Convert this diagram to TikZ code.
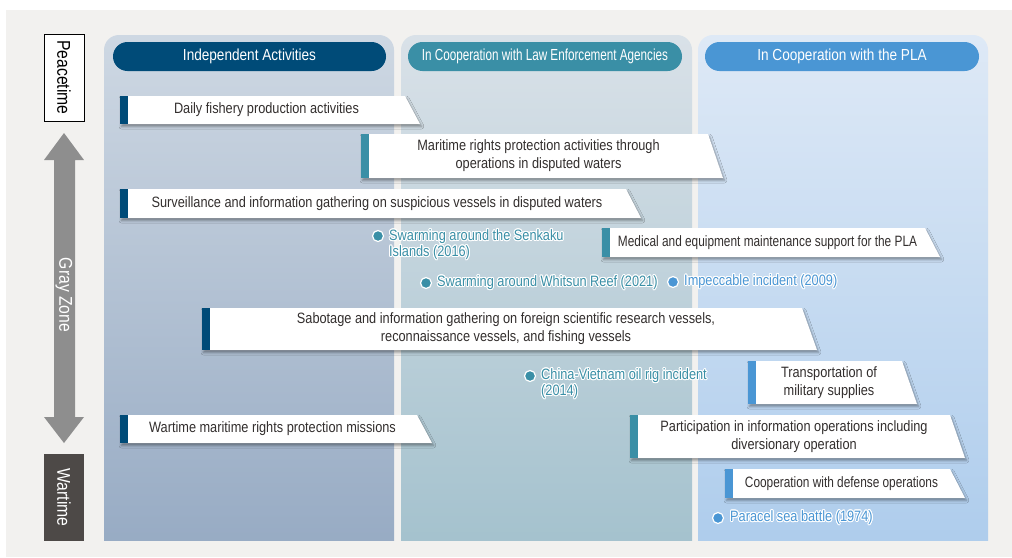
\documentclass[tikz,border=0pt]{standalone}
\usepackage{fontspec}
\setmainfont[FakeStretch=0.85]{Liberation Sans}
\newfontfamily\narrowfont[FakeStretch=0.73]{Liberation Sans}
\newfontfamily\tightfont[FakeStretch=0.79]{Liberation Sans}
\usepackage{contour}
\contourlength{1pt}
\usetikzlibrary{shadows.blur}

\definecolor{paper}{HTML}{F2F1EF}
\definecolor{navy}{HTML}{004B78}
\definecolor{lawteal}{HTML}{3A8FA6}
\definecolor{plablue}{HTML}{4A96D4}
\definecolor{ink}{HTML}{332F2E}
\definecolor{wardark}{HTML}{4D4947}
\definecolor{arrowgray}{HTML}{8E8E8E}
\definecolor{paneltopA}{HTML}{CED8E3}
\definecolor{panelbotA}{HTML}{96AAC3}
\definecolor{paneltopB}{HTML}{D9E1E8}
\definecolor{panelbotB}{HTML}{A3C1CD}
\definecolor{paneltopC}{HTML}{DEE9F6}
\definecolor{panelbotC}{HTML}{ADCCEC}

\tikzset{
  pill/.style={rounded corners=14.5, minimum height=29, inner sep=0pt, text=white,
    font=\fontsize{16}{18}\selectfont},
  sidebox/.style={rotate=-90, minimum width=87, minimum height=40, inner sep=0pt,
    font=\fontsize{18.5}{20}\selectfont},
  bartext/.style={align=center, inner sep=0pt, text=ink, font=\fontsize{15}{18}\selectfont},
  barshadow/.style={blur shadow={shadow xshift=1.5pt, shadow yshift=-2.5pt,
    shadow blur radius=2.5pt, shadow opacity=40}},
  dot/.style={circle, draw=white, line width=1.2pt, minimum size=11pt, inner sep=0pt},
  dotlabel/.style={anchor=west, align=left, inner sep=0pt, font=\fontsize{15}{16}\selectfont},
}

% one activity bar: name, left, top, right (at top), bottom, stripe colour, text
\newcommand{\actbar}[7]{%
  \fill[white, barshadow] (#2,#3) -- (#4,#3) -- ({#4+15},#5) -- (#2,#5) -- cycle;
  \fill[#6] (#2,#3) rectangle ({#2+8},#5);
  \node[bartext] (#1) at ({(#2+8+#4)/2},{(#3+#5)/2}) {#7};
}
\newcommand{\halo}[1]{\contour{white}{#1}}

\begin{document}
\begin{tikzpicture}[x=1pt, y=-1pt]
  \useasboundingbox (0,0) rectangle (1012,557);
  \fill[white] (0,0) rectangle (1012,557);
  \fill[paper] (6,10) rectangle (1012,557);

  % columns
  \begin{scope}
    \clip (0,0) rectangle (1012,540);
    \shade[top color=paneltopA, bottom color=panelbotA, rounded corners=15] (104,35) rectangle (394,556);
    \shade[top color=paneltopB, bottom color=panelbotB, rounded corners=15] (401,35) rectangle (692,556);
    \shade[top color=paneltopC, bottom color=panelbotC, rounded corners=15] (698,35) rectangle (988,556);
  \end{scope}
  \node[pill, fill=navy, minimum width=273] (indep) at (249.5,56.5) {Independent Activities};
  \node[pill, fill=lawteal, minimum width=274] (lawenf) at (545,56.5)
    {\narrowfont In Cooperation with Law Enforcement Agencies};
  \node[pill, fill=plablue, minimum width=274] (pla) at (842,56.5) {In Cooperation with the PLA};

  % left axis
  \node[sidebox, draw=black, line width=0.8pt, fill=white] (peace) at (64,77.5) {Peacetime};
  \fill[arrowgray] (64,133) -- (84,160) -- (75,160) -- (75,417) -- (84,417) -- (64,443)
    -- (44,417) -- (54,417) -- (54,160) -- (44,160) -- cycle;
  \node[sidebox, text=white] (grayzone) at (64,295) {Gray Zone};
  \node[sidebox, fill=wardark, text=white] (war) at (64,497.5) {Wartime};

  % activities
  \actbar{daily}{120}{96}{405}{124}{navy}{Daily fishery production activities}
  \actbar{rights}{361}{134}{708}{178}{lawteal}{Maritime rights protection activities through\\operations in disputed waters}
  \actbar{surveil}{120}{189}{626}{218}{navy}{Surveillance and information gathering on suspicious vessels in disputed waters}
  \actbar{medical}{602}{228}{925}{257}{lawteal}{\tightfont Medical and equipment maintenance support for the PLA}
  \actbar{sabotage}{202}{308}{802}{350}{navy}{Sabotage and information gathering on foreign scientific research vessels,\\reconnaissance vessels, and fishing vessels}
  \actbar{transport}{748}{361}{902}{404}{plablue}{Transportation of\\military supplies}
  \actbar{wartime}{120}{415}{417}{443}{navy}{Wartime maritime rights protection missions}
  \actbar{infoops}{630}{415}{950}{458}{lawteal}{Participation in information operations including\\diversionary operation}
  \actbar{defense}{725}{469}{950}{498}{plablue}{\tightfont Cooperation with defense operations}

  % incidents
  \node[dot, fill=lawteal] (senkakudot) at (378,236) {};
  \node[dotlabel, text=lawteal] (senkaku) at (389,245) {\halo{Swarming around the Senkaku}\\\halo{Islands (2016)}};
  \node[dot, fill=lawteal] (whitsundot) at (426,283) {};
  \node[dotlabel, text=lawteal] (whitsun) at (437,283) {\halo{Swarming around Whitsun Reef (2021)}};
  \node[dot, fill=plablue] (impeccdot) at (673,282) {};
  \node[dotlabel, text=plablue] (impecc) at (684,282) {\halo{Impeccable incident (2009)}};
  \node[dot, fill=lawteal] (oilrigdot) at (530,376) {};
  \node[dotlabel, text=lawteal] (oilrig) at (541,384) {\halo{China-Vietnam oil rig incident}\\\halo{(2014)}};
  \node[dot, fill=plablue] (paraceldot) at (718,518) {};
  \node[dotlabel, text=plablue] (paracel) at (730,518) {\halo{Paracel sea battle (1974)}};
\end{tikzpicture}
\end{document}
